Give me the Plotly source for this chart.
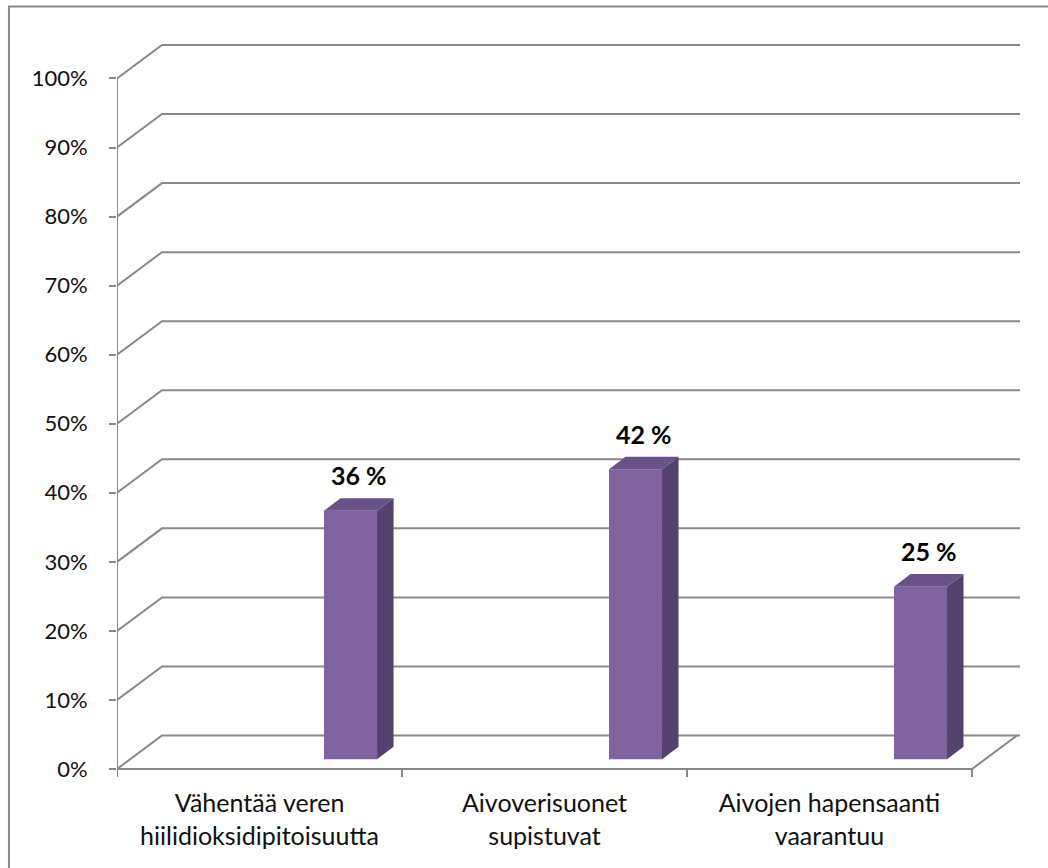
import plotly.graph_objects as go

# ---- data ----
categories = ["Vähentää veren<br>hiilidioksidipitoisuutta",
              "Aivoverisuonet<br>supistuvat",
              "Aivojen hapensaanti<br>vaarantuu"]
values = [0.36, 0.42, 0.25]
value_labels = ["36 %", "42 %", "25 %"]
y_ticks = [0.0, 0.1, 0.2, 0.3, 0.4, 0.5, 0.6, 0.7, 0.8, 0.9, 1.0]
y_tick_text = ["0%", "10%", "20%", "30%", "40%", "50%", "60%", "70%", "80%", "90%", "100%"]

# ---- geometry / style constants ----
W, H = 1048, 868
PX_X = 284.9          # pixels per category
PX_Y = 691.0          # pixels per 100 %
LEFT_PX = 117         # front axis pixel x
ZERO_PX = 769         # pixel y of 0 %
DX = 45 / PX_X        # back-wall depth offset (x units)
DY = 33.5 / PX_Y      # back-wall depth offset (y units)
BAR_SHIFT = 91 / PX_X
BAR_W = 53 / PX_X
BAR_Y0 = 9.7 / PX_Y
SIDE_DX = 16.5 / PX_X
SIDE_DY = 12.6 / PX_Y
TICK_Y = 8 / PX_Y

GRID = "#898989"
FRONT = "#7F63A1"
SIDE = "#54416D"
TOP = "#695287"
FONT = "Lato"
TEXT = "#111111"

n = len(categories)
x_min = -0.5
x_max = n - 0.5 + DX + 3 / PX_X
y_min = -(11 / PX_Y)
y_max = 1 + DY + 4 / PX_Y
plot_w = (x_max - x_min) * PX_X
plot_h = (y_max - y_min) * PX_Y
m_l = LEFT_PX
m_r = W - LEFT_PX - plot_w
m_t = ZERO_PX - y_max * PX_Y
m_b = H - m_t - plot_h

fig = go.Figure()

shapes = []
# back wall gridlines with diagonal from front axis
for t in y_ticks:
    shapes.append(dict(type="path", xref="x", yref="y", layer="below",
                       path=f"M {x_min},{t} L {x_min + DX},{t + DY} L {x_max},{t + DY}",
                       line=dict(color=GRID, width=2)))
# front vertical axis
shapes.append(dict(type="line", xref="x", yref="y", layer="below",
                   x0=x_min, x1=x_min, y0=0, y1=1, line=dict(color=GRID, width=2)))
# floor front edge and right diagonal
shapes.append(dict(type="path", xref="x", yref="y", layer="below",
                   path=f"M {x_min},0 L {n - 0.5},0 L {n - 0.5 + DX},{DY}",
                   line=dict(color=GRID, width=2)))
# category boundary ticks
for b in range(n + 1):
    xb = b - 0.5
    shapes.append(dict(type="line", xref="x", yref="y", layer="below",
                       x0=xb, x1=xb, y0=0, y1=-TICK_Y, line=dict(color=GRID, width=2)))

# bars: front face as real bar trace
bar_x = [i + BAR_SHIFT for i in range(n)]
fig.add_trace(go.Bar(x=bar_x, y=values, base=BAR_Y0, width=BAR_W,
                     marker=dict(color=FRONT, line=dict(width=0)),
                     hoverinfo="skip", showlegend=False))

# side and top faces
for xc, v in zip(bar_x, values):
    xl = xc - BAR_W / 2
    xr = xc + BAR_W / 2
    yb = BAR_Y0
    yt = BAR_Y0 + v
    shapes.append(dict(type="path", xref="x", yref="y", layer="above",
                       path=(f"M {xr},{yb} L {xr + SIDE_DX},{yb + SIDE_DY} "
                             f"L {xr + SIDE_DX},{yt + SIDE_DY} L {xr},{yt} Z"),
                       fillcolor=SIDE, line=dict(width=0)))
    shapes.append(dict(type="path", xref="x", yref="y", layer="above",
                       path=(f"M {xl},{yt} L {xl + SIDE_DX},{yt + SIDE_DY} "
                             f"L {xr + SIDE_DX},{yt + SIDE_DY} L {xr},{yt} Z"),
                       fillcolor=TOP, line=dict(width=0)))

# outer chart border
def px_to_paper_x(px):
    return (px - m_l) / plot_w

def px_to_paper_y(py):
    return (H - m_b - py) / plot_h

shapes.append(dict(type="rect", xref="paper", yref="paper", layer="above",
                   x0=px_to_paper_x(9), x1=px_to_paper_x(1060),
                   y0=px_to_paper_y(880), y1=px_to_paper_y(6),
                   line=dict(color="#888888", width=2), fillcolor="rgba(0,0,0,0)"))

annotations = []
for xc, v, lab in zip(bar_x, values, value_labels):
    annotations.append(dict(x=xc + SIDE_DX / 2, y=BAR_Y0 + v + SIDE_DY,
                            xref="x", yref="y", text=f"<b>{lab}</b>",
                            showarrow=False, yanchor="bottom", xanchor="center",
                            yshift=6, font=dict(family=FONT, size=25, color="#000000")))

fig.update_layout(
    width=W, height=H,
    margin=dict(l=m_l, r=m_r, t=m_t, b=m_b, pad=0),
    paper_bgcolor="white", plot_bgcolor="white",
    shapes=shapes, annotations=annotations,
    showlegend=False,
    xaxis=dict(range=[x_min, x_max], showgrid=False, zeroline=False, showline=False,
               tickmode="array", tickvals=list(range(n)), ticktext=categories,
               ticks="", tickfont=dict(family=FONT, size=25, color=TEXT),
               ticklabelstandoff=6, fixedrange=True),
    yaxis=dict(range=[y_min, y_max], showgrid=False, zeroline=False, showline=False,
               tickmode="array", tickvals=y_ticks, ticktext=y_tick_text,
               ticks="outside", ticklen=7, tickwidth=2, tickcolor=GRID,
               ticklabelstandoff=17,
               tickfont=dict(family=FONT, size=22, color=TEXT), fixedrange=True),
)

fig.write_html("out.html")
